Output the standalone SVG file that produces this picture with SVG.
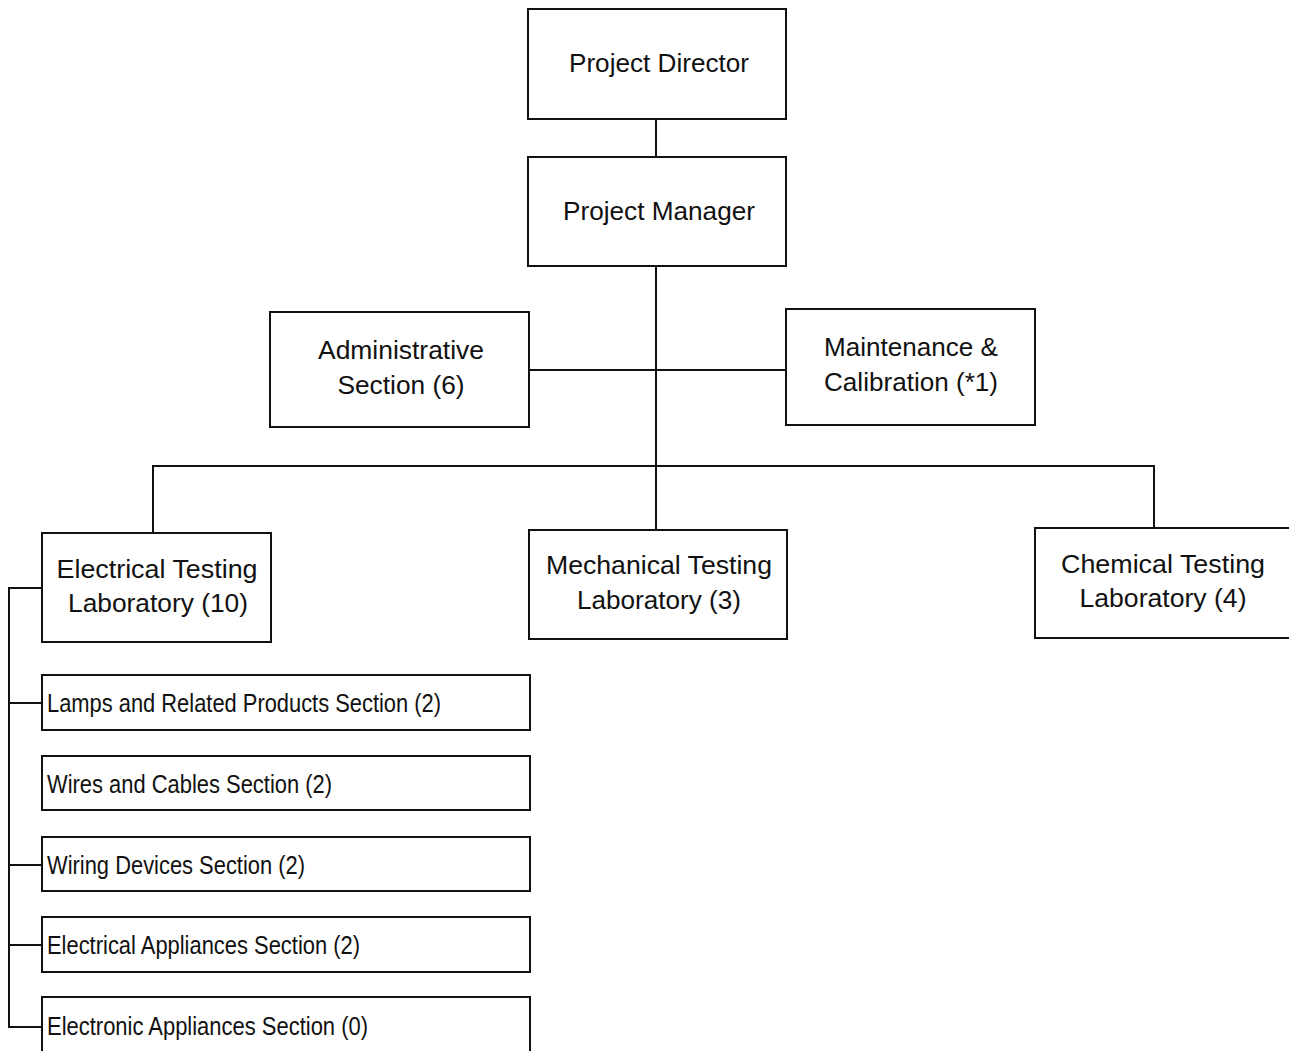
<svg xmlns="http://www.w3.org/2000/svg" width="1289" height="1051" viewBox="0 0 1289 1051">
<style>
.box{fill:#fff;stroke:#111;stroke-width:2}
.ln{fill:none;stroke:#111;stroke-width:2}
text{font-family:"Liberation Sans",Arial,sans-serif;fill:#111;font-size:25px}
.c{text-anchor:middle}
.s{font-size:26px}
</style>
<rect width="1289" height="1051" fill="#fff"/>
<g id="connectors">
<path class="ln" d="M656 119V157M656 266V530M529 370H786M153 533V466H1154V528M42 588H9V1027H42M9 703H42M9 865H42M9 945H42"/>
</g>
<g id="director"><rect class="box" x="528" y="9" width="258" height="110"/><text class="c" x="659" y="72" textLength="180" lengthAdjust="spacingAndGlyphs">Project Director</text></g>
<g id="manager"><rect class="box" x="528" y="157" width="258" height="109"/><text class="c" x="659" y="220" textLength="192" lengthAdjust="spacingAndGlyphs">Project Manager</text></g>
<g id="admin"><rect class="box" x="270" y="312" width="259" height="115"/><text class="c" x="401" y="359" textLength="166" lengthAdjust="spacingAndGlyphs">Administrative</text><text class="c" x="401" y="394" textLength="127" lengthAdjust="spacingAndGlyphs">Section (6)</text></g>
<g id="maintenance"><rect class="box" x="786" y="309" width="249" height="116"/><text class="c" x="911" y="356" textLength="174" lengthAdjust="spacingAndGlyphs">Maintenance &amp;</text><text class="c" x="911" y="391" textLength="174" lengthAdjust="spacingAndGlyphs">Calibration (*1)</text></g>
<g id="electrical"><rect class="box" x="42" y="533" width="229" height="109"/><text class="c" x="157" y="578" textLength="201" lengthAdjust="spacingAndGlyphs">Electrical Testing</text><text class="c" x="158" y="612" textLength="180" lengthAdjust="spacingAndGlyphs">Laboratory (10)</text></g>
<g id="mechanical"><rect class="box" x="529" y="530" width="258" height="109"/><text class="c" x="659" y="574" textLength="226" lengthAdjust="spacingAndGlyphs">Mechanical Testing</text><text class="c" x="659" y="609" textLength="164" lengthAdjust="spacingAndGlyphs">Laboratory (3)</text></g>
<g id="chemical"><rect class="box" x="1035" y="528" width="262" height="110"/><text class="c" x="1163" y="573" textLength="204" lengthAdjust="spacingAndGlyphs">Chemical Testing</text><text class="c" x="1163" y="607" textLength="167" lengthAdjust="spacingAndGlyphs">Laboratory (4)</text></g>
<g id="lamps"><rect class="box" x="42" y="675" width="488" height="55"/><text class="s" x="47" y="712" textLength="394" lengthAdjust="spacingAndGlyphs">Lamps and Related Products Section (2)</text></g>
<g id="wires"><rect class="box" x="42" y="756" width="488" height="54"/><text class="s" x="47" y="793" textLength="285" lengthAdjust="spacingAndGlyphs">Wires and Cables Section (2)</text></g>
<g id="wiring"><rect class="box" x="42" y="837" width="488" height="54"/><text class="s" x="47" y="874" textLength="258" lengthAdjust="spacingAndGlyphs">Wiring Devices Section (2)</text></g>
<g id="appliances"><rect class="box" x="42" y="917" width="488" height="55"/><text class="s" x="47" y="954" textLength="313" lengthAdjust="spacingAndGlyphs">Electrical Appliances Section (2)</text></g>
<g id="electronic"><rect class="box" x="42" y="997" width="488" height="60"/><text class="s" x="47" y="1035" textLength="321" lengthAdjust="spacingAndGlyphs">Electronic Appliances Section (0)</text></g>
</svg>
